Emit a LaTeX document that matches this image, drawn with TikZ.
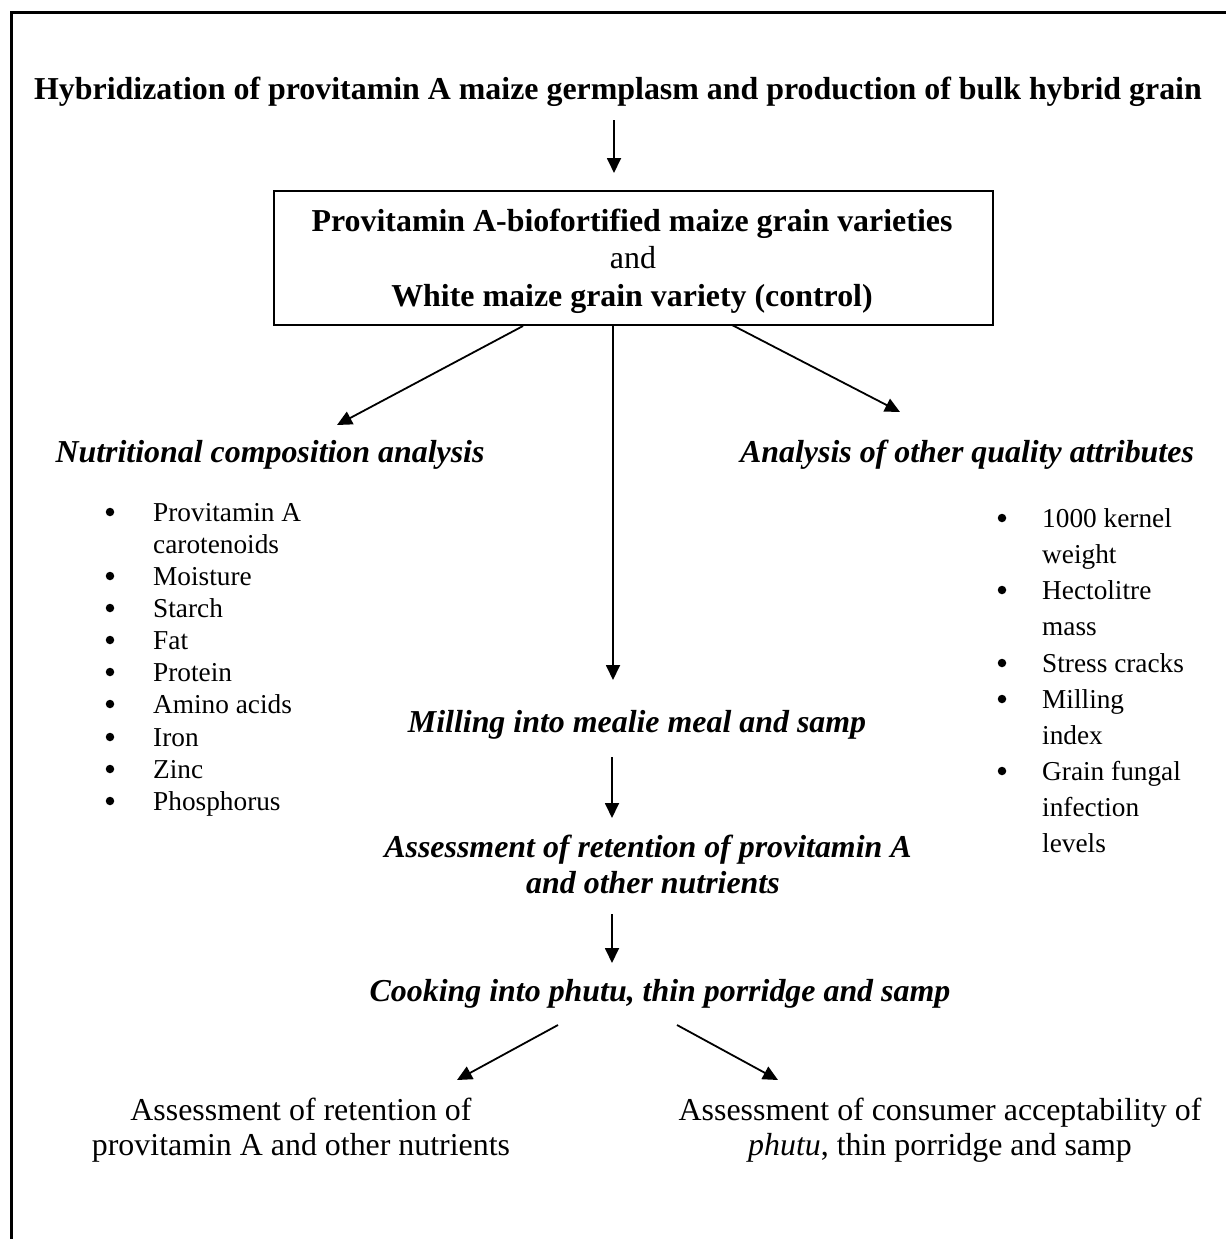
\documentclass[tikz,border=0pt]{standalone}
\usepackage{fontspec}
\setmainfont{Liberation Serif}
\usetikzlibrary{arrows.meta}
\begin{document}
\begin{tikzpicture}[x=1pt,y=-1pt,
  txt/.style={inner sep=0pt, anchor=base},
  lft/.style={inner sep=0pt, anchor=base west},
  big/.style={font=\fontsize{31.9}{36.7}\selectfont},
  small/.style={font=\fontsize{27.3}{31.4}\selectfont},
  bulletdot/.style={circle, fill=black, inner sep=0pt, minimum size=8.5pt},
  arr/.style={line width=1.8pt, -{Triangle[length=15pt,width=14pt]}},
  boxstyle/.style={draw, line width=1.7pt, minimum width=719pt, minimum height=134pt, inner sep=0pt}
]
\useasboundingbox (0,0) rectangle (1226,1239);
% frame
\draw[line width=2.8pt] (11.5,1239) -- (11.5,12.7) -- (1226,12.7);

% title
\node[txt,big] (title) at (618,99.5) {\bfseries Hybridization of provitamin A maize germplasm and production of bulk hybrid grain};

% box
\node[boxstyle] (box) at (633.4,258) {};
\node[txt,big] (b1) at (632,231.7) {\bfseries Provitamin A-biofortified maize grain varieties};
\node[txt,big] (b2) at (633,268) {and};
\node[txt,big] (b3) at (632,306) {\bfseries White maize grain variety (control)};

% headings
\node[txt,big] (nut) at (270,462) {\bfseries\itshape Nutritional composition analysis};
\node[txt,big] (oth) at (967,462) {\bfseries\itshape Analysis of other quality attributes};
\node[txt,big] (mill) at (637,732) {\bfseries\itshape Milling into mealie meal and samp};
\node[txt,big] (ret1) at (648,857) {\bfseries\itshape Assessment of retention of provitamin A};
\node[txt,big] (ret2) at (653,893) {\bfseries\itshape and other nutrients};
\node[txt,big] (cook) at (660,1001) {\bfseries\itshape Cooking into phutu, thin porridge and samp};

% left list
\foreach \nm/\yy in {la/521,lc/585,ld/617,le/649,lf/681,lg/713,lh/746,li/778,lj/810}
  \node[bulletdot] (dot\nm) at (110,\yy-9) {};
\node[lft,small] (la) at (153,521) {Provitamin A};
\node[lft,small] (lb) at (153,553) {carotenoids};
\node[lft,small] (lc) at (153,585) {Moisture};
\node[lft,small] (ld) at (153,617) {Starch};
\node[lft,small] (le) at (153,649) {Fat};
\node[lft,small] (lf) at (153,681) {Protein};
\node[lft,small] (lg) at (153,713) {Amino acids};
\node[lft,small] (lh) at (153,746) {Iron};
\node[lft,small] (li) at (153,778) {Zinc};
\node[lft,small] (lj) at (153,810) {Phosphorus};

% right list
\foreach \nm/\yy in {ra/527,rc/599,re/672,rf/708,rh/780}
  \node[bulletdot] (dot\nm) at (1002,\yy-9) {};
\node[lft,small] (ra) at (1042,527) {1000 kernel};
\node[lft,small] (rb) at (1042,563) {weight};
\node[lft,small] (rc) at (1042,599) {Hectolitre};
\node[lft,small] (rd) at (1042,635) {mass};
\node[lft,small] (re) at (1042,672) {Stress cracks};
\node[lft,small] (rf) at (1042,708) {Milling};
\node[lft,small] (rg) at (1042,744) {index};
\node[lft,small] (rh) at (1042,780) {Grain fungal};
\node[lft,small] (ri) at (1042,816) {infection};
\node[lft,small] (rj) at (1042,852) {levels};

% bottom outcomes
\node[txt,big] (o1a) at (301,1120) {Assessment of retention of};
\node[txt,big] (o1b) at (301,1155) {provitamin A and other nutrients};
\node[txt,big] (o2a) at (940,1120) {Assessment of consumer acceptability of};
\node[txt,big] (o2b) at (940,1155) {\textit{phutu}, thin porridge and samp};

% connector end points
\coordinate (s1) at (614,120);
\coordinate (e1) at (614,173);
\coordinate (sl) at (523,326);
\coordinate (el) at (337,425);
\coordinate (sr) at (732,325);
\coordinate (er) at (900,412);
\coordinate (sc) at (613,326);
\coordinate (ec) at (613,680);
\coordinate (s2) at (612,757);
\coordinate (e2) at (612,818);
\coordinate (s3) at (612,914);
\coordinate (e3) at (612,963);
\coordinate (sbl) at (558,1025);
\coordinate (ebl) at (457,1080);
\coordinate (sbr) at (677,1025);
\coordinate (ebr) at (778,1080);

\draw[arr] (s1) -- (e1);
\draw[arr] (sl) -- (el);
\draw[arr] (sr) -- (er);
\draw[arr] (sc) -- (ec);
\draw[arr] (s2) -- (e2);
\draw[arr] (s3) -- (e3);
\draw[arr] (sbl) -- (ebl);
\draw[arr] (sbr) -- (ebr);
\end{tikzpicture}
\end{document}
